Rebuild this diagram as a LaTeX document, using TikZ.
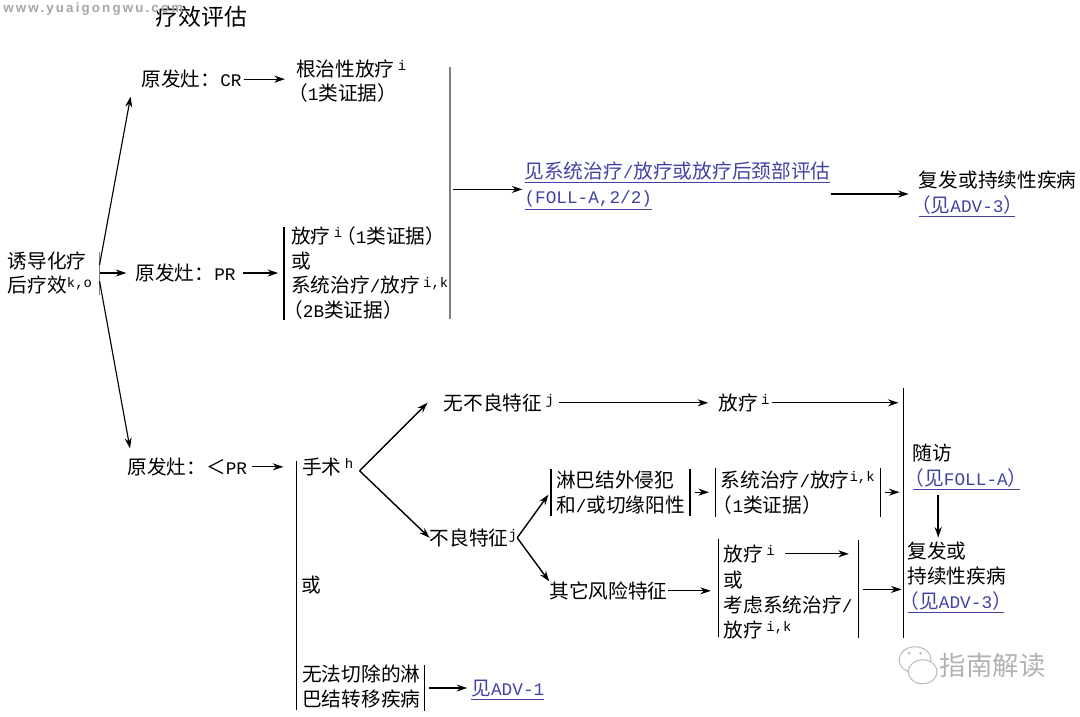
\documentclass[tikz,border=0pt]{standalone}
\usepackage{fontspec}
\setmainfont{Noto Sans CJK SC}
\newfontfamily\latfont[Scale=0.9]{Liberation Mono}
\newfontfamily\markfont[LetterSpace=16]{Liberation Sans}
\usetikzlibrary{arrows.meta, positioning, shapes.geometric, calc}
\definecolor{linkblue}{RGB}{66,66,165}
\newcommand{\la}[1]{{\latfont #1}}
\newcommand{\sups}[1]{\raisebox{.55ex}{\fontsize{11}{11}\selectfont\latfont #1}}
\newcommand{\lnk}[1]{{\color{linkblue}\underline{#1}}}
\newcommand{\lp}{\kern-.4em（}
\newcommand{\rp}{）\kern-.4em}

\begin{document}
\begin{tikzpicture}[
    node distance=0.5cm,
    txt/.style={inner sep=0pt, align=left, font=\fontsize{14}{17.7}\selectfont},
    vbar/.style={fill=black, inner sep=0pt, minimum width=0.8pt},
    gbar/.style={fill=gray, inner sep=0pt, minimum width=1.3pt},
    arr/.style={->, line width=0.8pt},
    wmark/.style={draw=gray!55, fill=white, ellipse, inner sep=0pt, line width=0.7pt},
    wdot/.style={circle, fill=gray!55, inner sep=0pt, minimum size=2pt},
    >={Stealth[length=7.5pt, width=5pt]}]
  \useasboundingbox (0,0) rectangle (27,-17.9);
  % first column
  \node[txt] (root) at (1.25,-6.825) {诱导化疗\\后疗效\sups{k,o}};
  \node[gbar, minimum height=1.075cm, right=0.15cm of root] (rootbar) {};
  \node[txt, right=1.075cm of root] (pr) {原发灶：\la{PR}};
  \node[txt, above=4.375cm of pr, xshift=0.15cm] (cr) {原发灶：\la{CR}};
  \node[txt, below=4.375cm of pr, xshift=0.04cm] (lt) {原发灶：＜\la{PR}};
  \node[txt, above=1.05cm of cr, xshift=0.25cm, font=\fontsize{16.3}{20}\selectfont] (title) {疗效评估};
  \node[left=-0.7cm of title, yshift=0.2cm, inner sep=0pt, text=gray!70, font=\fontsize{9.5}{9.5}\selectfont\markfont\bfseries] (web) {www.yuaigongwu.com};
  % upper branch
  \node[txt, right=1.35cm of cr, yshift=-0.05cm] (crtx) {根治性放疗\,\sups{i}\\\lp\la{1}类证据\rp};
  \node[txt, right=1.375cm of pr] (prtx) {放疗\,\sups{i}\kern-.3em（\la{1}类证据）\\或\\系统治疗\la{/}放疗\,\sups{i,k}\\\lp\la{2B}类证据\rp};
  \node[vbar, minimum height=2.325cm, left=0.15cm of prtx] (prbar) {};
  \node[gbar, minimum height=6.275cm, right=4.1cm of prbar, yshift=2cm] (bigbar) {};
  \node[txt, right=1.825cm of bigbar, yshift=0.175cm] (foll) {\lnk{见系统治疗\la{/}放疗或放疗后颈部评估}\\\lnk{\la{(FOLL-A,2/2)}}};
  \node[txt, right=2.2cm of foll, yshift=-0.2cm] (relapse) {复发或持续性疾病\\\lnk{\lp 见\la{ADV-3}\rp}};
  % lower branch
  \node[vbar, minimum height=6.225cm, right=1.2cm of lt, yshift=-2.96cm] (surgbar) {};
  \node[txt, right=0.125cm of surgbar, yshift=2.96cm] (surg) {手术\,\sups{h}};
  \node[txt, right=0.1cm of surgbar] (orsurg) {或};
  \node[txt, right=0.125cm of surgbar, yshift=-2.54cm] (unres) {无法切除的淋\\巴结转移疾病};
  \node[vbar, minimum height=1.15cm, right=0.07cm of unres, yshift=-0.03cm] (unresbar) {};
  \node[txt, right=1.15cm of unresbar, yshift=-0.05cm] (adva) {\lnk{见\la{ADV-1}}};
  \node[txt, right=2.25cm of surg, yshift=1.6cm] (nofeat) {无不良特征\,\sups{j}};
  \node[txt, right=1.9cm of surg, yshift=-1.775cm] (badfeat) {不良特征\sups{j}};
  \node[txt, right=4.1cm of nofeat] (rt) {放疗\,\sups{i}};
  \node[vbar, minimum height=1.175cm, right=0.825cm of badfeat, yshift=1.14cm] (lymbar) {};
  \node[txt, right=0.1cm of lymbar] (lym) {淋巴结外侵犯\\和\la{/}或切缘阳性};
  \node[vbar, minimum height=1.175cm, right=0.1cm of lym] (lymbarr) {};
  \node[vbar, minimum height=1.225cm, right=0.6cm of lymbarr] (sysbar) {};
  \node[txt, right=0.1cm of sysbar] (systx) {系统治疗\la{/}放疗\sups{i,k}\\\lp\la{1}类证据\rp};
  \node[vbar, minimum height=1.225cm, right=0.125cm of systx] (sysbarr) {};
  \node[txt, right=0.8cm of badfeat, yshift=-1.325cm] (other) {其它风险特征};
  \node[vbar, minimum height=2.45cm, right=1.25cm of other, yshift=0.075cm] (othbar) {};
  \node[txt, right=0.1cm of othbar, yshift=0.85cm] (othrt) {放疗\,\sups{i}};
  \node[txt, below=0.2cm of othrt.south west, anchor=north west] (othtx) {或\\考虑系统治疗\la{/}\\放疗\,\sups{i,k}};
  \node[vbar, minimum height=2.45cm, right=0.125cm of othtx, yshift=0.4cm] (othbarr) {};
  \node[vbar, minimum height=6.25cm, right=1.075cm of othbarr, yshift=1.9cm] (mainbar) {};
  \node[txt, right=0.2cm of mainbar, yshift=1.15cm] (fu) {随访\\\lnk{\lp 见\la{FOLL-A}\rp}};
  \node[txt, right=0.075cm of mainbar, yshift=-1.6cm] (recur) {复发或\\持续性疾病\\\lnk{\lp 见\la{ADV-3}\rp}};
  % watermark bottom right
  \node[txt, below=1cm of recur, xshift=0.9cm, text=gray!60, font=\fontsize{18.8}{20}\selectfont] (guide) {指南解读};
  \node[wmark, minimum width=0.8cm, minimum height=0.65cm, left=0.2cm of guide, yshift=0.15cm] (chata) {};
  \node[wmark, minimum width=0.72cm, minimum height=0.6cm, left=0.05cm of guide, yshift=-0.15cm] (chatb) {};
  \node[wdot, above=0.12cm of chata.center, xshift=-0.15cm] (eyea) {};
  \node[wdot, right=0.2cm of eyea] (eyeb) {};
  % connectors
  \coordinate (rootfork) at (rootbar.center);
  \draw[arr] ([yshift=0.2cm]rootfork) -- ([xshift=-1.525cm,yshift=-0.2cm]cr.south);
  \draw[arr] (rootfork) -- ([xshift=-0.225cm]pr.west);
  \draw[arr] ([yshift=-0.2cm]rootfork) -- ([xshift=-1.43cm,yshift=0.225cm]lt.north);
  \draw[arr, shorten <=0.05cm, shorten >=0.275cm] (cr.east) -- (cr.east -| crtx.west);
  \draw[arr, shorten <=0.175cm, shorten >=0.125cm] (pr.east) -- (pr.east -| prbar.west);
  \draw[arr, shorten <=0.05cm, shorten >=0.05cm] ([yshift=0.09cm]bigbar.east) -- ([yshift=0.09cm]bigbar.east -| foll.west);
  \draw[arr, shorten >=0.25cm] (foll.east |- relapse.west) -- (relapse.west);
  \draw[arr, shorten <=0.125cm, shorten >=0.3cm] (lt.east) -- (lt.east -| surgbar.west);
  \coordinate (surgfork) at ([xshift=0.15cm,yshift=-0.1cm]surg.east);
  \draw[arr, line width=1pt] (surgfork) -- ([xshift=-0.4cm]nofeat.west);
  \draw[arr, line width=1pt] (surgfork) -- (badfeat.west);
  \draw[arr, line width=1pt, shorten >=0.075cm] (badfeat.east) -- (lymbar.west);
  \draw[arr, line width=1pt] (badfeat.east) -- (other.north west);
  \draw[arr, shorten <=0.125cm, shorten >=0.25cm] (nofeat.east) -- (nofeat.east -| rt.west);
  \draw[arr, shorten <=0.05cm, shorten >=0.1cm] (rt.east) -- (rt.east -| mainbar.west);
  \draw[arr, shorten <=0.1cm, shorten >=0.15cm] (lymbarr.east) -- (lymbarr.east -| sysbar.west);
  \draw[arr, shorten <=0.075cm, shorten >=0.075cm] (sysbarr.east) -- (sysbarr.east -| mainbar.west);
  \draw[arr, shorten >=0.175cm] (other.east) -- (other.east -| othbar.west);
  \draw[arr, shorten <=0.25cm, shorten >=0.225cm] (othrt.east) -- (othrt.east -| othbarr.west);
  \draw[arr, shorten <=0.075cm, shorten >=0.025cm] (othbarr.east) -- (othbarr.east -| mainbar.west);
  \draw[arr, shorten <=0.1cm, shorten >=0.1cm] (unresbar.east) -- (unresbar.east -| adva.west);
  \coordinate (futail) at ([xshift=0.65cm]fu.south west);
  \draw[arr, line width=1.1pt, shorten <=0.1cm, shorten >=0.1cm] (futail) -- (futail |- recur.north);
\end{tikzpicture}
\end{document}
